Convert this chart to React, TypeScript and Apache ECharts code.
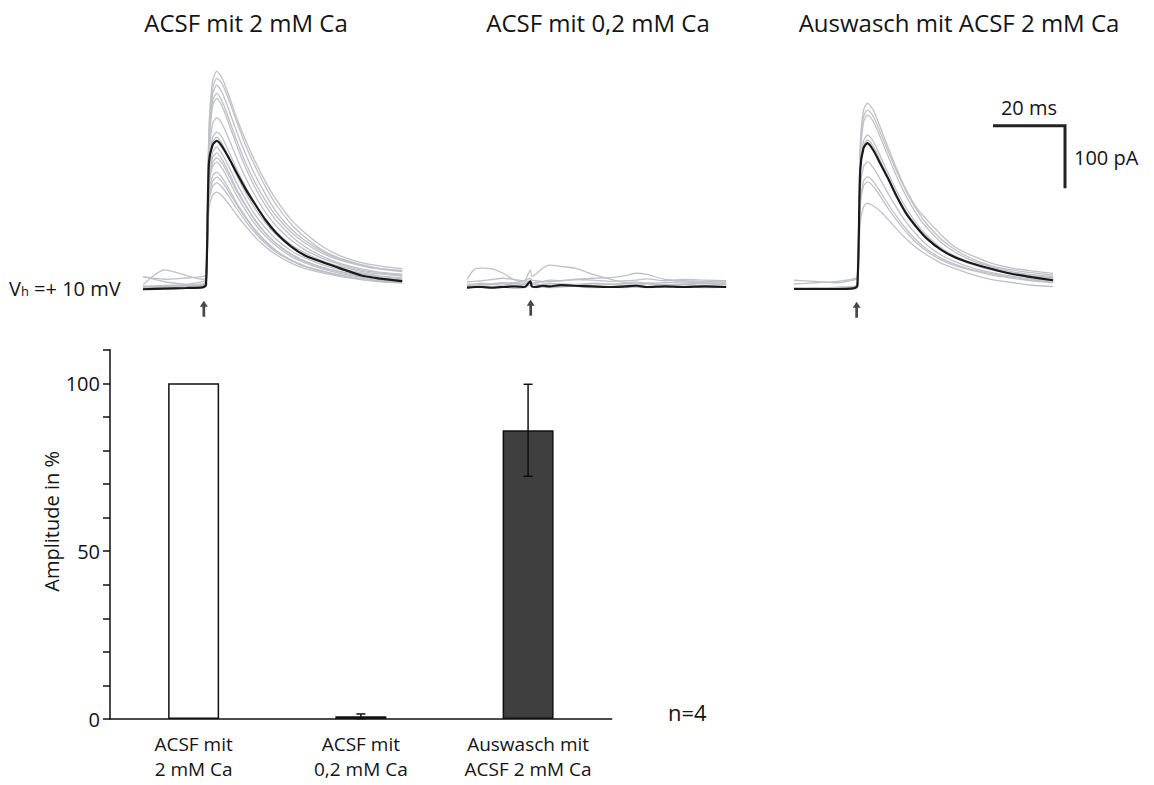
import React, { useEffect, useRef } from "react";
import * as echarts from "echarts";

// ---------- Trace data (time in ms, current in pA) ----------
const panelTitles = ["ACSF mit 2 mM Ca", "ACSF mit 0,2 mM Ca", "Auswasch mit ACSF 2 mM Ca"];

const T1 = [0, 6, 12, 16.5, 17.5, 18.3, 19.3, 20.5, 22, 24, 26, 28.5, 31, 34, 37, 41, 45, 50, 55, 61, 66, 72];
const mean1 = [-2, -1, 0, 1, 5, 200, 228, 235, 226, 206, 184, 158, 135, 109, 88, 67, 52, 41, 31, 19.5, 15, 11];
const gray1 = [
  [2, 0, 1, 2, 8, 250, 330, 346, 335, 305, 272, 236, 204, 170, 141, 110, 88, 66, 51, 40, 35, 31],
  [0, 3, 2, 4, 10, 240, 318, 335, 326, 298, 266, 228, 196, 162, 133, 103, 81, 60, 47, 37, 31, 27],
  [3, 4, 5, 6, 12, 230, 308, 324, 312, 282, 250, 214, 182, 150, 122, 95, 76, 58, 45, 35, 30, 26],
  [18, 14, 16, 18, 22, 225, 298, 311, 298, 268, 236, 200, 170, 140, 115, 90, 72, 55, 44, 36, 31, 28],
  [0, 1, 0, 2, 6, 215, 290, 303, 290, 260, 228, 192, 162, 132, 108, 84, 66, 50, 39, 30, 25, 22],
  [1, 0, 2, 3, 8, 200, 262, 272, 262, 236, 208, 176, 149, 121, 99, 77, 61, 47, 37, 28, 24, 20],
  [5, 29, 20, 14, 16, 190, 240, 249, 240, 216, 190, 162, 136, 110, 90, 70, 56, 43, 34, 26, 22, 19],
  [0, 2, 1, 1, 5, 185, 232, 241, 230, 206, 180, 152, 128, 104, 85, 66, 52, 40, 31, 24, 19, 16],
  [18, 10, 6, 10, 14, 175, 216, 225, 214, 192, 168, 142, 118, 96, 78, 60, 48, 37, 29, 22, 18, 15],
  [0, -1, 0, 1, 4, 170, 208, 216, 205, 183, 158, 133, 110, 88, 71, 54, 42, 32, 25, 18, 14, 12],
  [1, 0, 1, 2, 5, 165, 200, 208, 199, 178, 155, 131, 109, 88, 71, 55, 43, 33, 26, 19, 15, 13],
  [2, 3, 4, 6, 9, 160, 194, 201, 191, 170, 148, 124, 103, 83, 67, 51, 40, 30, 23, 17, 14, 11],
  [0, 1, 1, 2, 5, 150, 179, 185, 176, 157, 136, 114, 94, 75, 60, 45, 35, 26, 20, 14, 11, 9],
  [1, 0, 0, 1, 3, 140, 170, 177, 169, 152, 133, 112, 93, 74, 59, 45, 35, 27, 20, 14, 11, 9],
  [0, 1, 0, 1, 4, 135, 162, 168, 161, 145, 127, 107, 89, 71, 57, 44, 34, 26, 20, 15, 12, 10],
  [0, 2, 1, 3, 5, 125, 148, 153, 147, 133, 117, 99, 82, 66, 53, 40, 31, 24, 18, 13, 10, 8],
];

const T2 = [0, 2, 4, 7, 10, 13, 16, 17.6, 18, 19, 21, 23, 26, 30, 35, 40, 44, 47, 50, 55, 60, 66, 72];
const mean2 = [-1, 0, 0, -1, 0, 1, 0, 9, 1, 0, 2, 1, 3, 2, 1, 0, 1, 2, 0, 1, 0, 1, 0];
const gray2 = [
  [12, 28, 30, 29, 22, 12, 8, 10, 6, 5, 4, 6, 5, 4, 6, 5, 6, 5, 6, 4, 5, 6, 5],
  [2, 3, 4, 5, 6, 7, 10, 27, 17, 20, 30, 35, 33, 30, 20, 12, 7, 8, 6, 7, 8, 7, 6],
  [4, 5, 6, 5, 7, 6, 5, 8, 6, 7, 8, 9, 10, 12, 14, 15, 18, 22, 20, 12, 10, 9, 8],
  [8, 9, 10, 12, 14, 12, 10, 14, 11, 10, 9, 11, 10, 12, 11, 9, 10, 11, 13, 10, 12, 11, 10],
  [1, 2, 3, 4, 3, 5, 4, 6, 4, 3, 4, 5, 4, 3, 5, 4, 3, 4, 5, 3, 4, 3, 4],
  [-2, -1, 0, -1, 0, -2, -1, 3, 0, -1, 0, -1, 0, 1, -1, 0, -1, 0, -1, 0, 1, -1, 0],
];

const T3 = [0, 6, 12, 16.5, 17.6, 18.4, 19.3, 20.4, 22, 24, 26, 28.5, 31, 34, 37, 41, 45, 50, 55, 61, 66, 72];
const mean3 = [0, 0, 0, 1, 5, 190, 225, 233, 222, 200, 178, 148, 122, 99, 80, 62, 50, 40, 32, 23.5, 19, 14];
const gray3 = [
  [14, 12, 10, 14, 18, 230, 285, 297, 286, 258, 228, 192, 160, 130, 110, 86, 66, 52, 41, 33, 29, 25],
  [8, 10, 12, 16, 20, 220, 275, 286, 276, 250, 222, 188, 158, 127, 103, 79, 62, 47, 37, 30, 26, 22],
  [0, 2, 1, 3, 6, 210, 266, 278, 268, 242, 214, 180, 150, 120, 97, 74, 58, 44, 35, 27, 23, 20],
  [2, 1, 3, 4, 7, 190, 236, 246, 236, 212, 187, 157, 131, 105, 85, 65, 52, 40, 32, 25, 21, 18],
  [0, 1, 0, 2, 5, 185, 228, 238, 228, 205, 180, 151, 125, 100, 81, 62, 49, 38, 30, 24, 20, 17],
  [1, 0, 1, 2, 4, 160, 195, 203, 194, 175, 154, 130, 108, 87, 70, 54, 43, 33, 26, 20, 16, 13],
  [0, 1, 0, 1, 4, 140, 172, 179, 172, 155, 137, 116, 97, 78, 63, 49, 39, 30, 24, 18, 14, 11],
  [1, 0, 2, 1, 3, 135, 164, 171, 164, 148, 130, 110, 92, 74, 60, 46, 37, 29, 22, 17, 13, 10],
  [0, 1, 0, 1, 3, 105, 131, 137, 133, 124, 112, 96, 81, 66, 54, 41, 32, 22, 15, 10, 6, 4],
];

const stimTimes = [16.9, 17.7, 17.4];

// ---------- Bar data ----------
const categories = ["ACSF mit\n2 mM Ca", "ACSF mit\n0,2 mM Ca", "Auswasch mit\nACSF 2 mM Ca"];
const amplitudes = [100, 0.8, 86];
const errors = [0, 0.7, 13.7];
const barColors = ["#ffffff", "#111111", "#3f3f3f"];
const yTickLabels = [0, 50, 100];

const FONT = "Open Sans";
const TXT = "#141414";
const GRAY = "#c0c1c8";

const pxPerMs = 3.6;
const pxPerPA = 0.626;
const panelOrigins = [
  [143, 288],
  [467, 287],
  [794, 289],
];
const Y_MIN = -50;
const Y_MAX = 360;
const T_MAX = 72;

export default function App() {
  const ref = useRef<HTMLDivElement>(null);
  useEffect(() => {
    if (!ref.current) return;
    const chart = echarts.init(ref.current, null, { renderer: "svg" });

    const traceSets = [
      { T: T1, mean: mean1, grays: gray1 },
      { T: T2, mean: mean2, grays: gray2 },
      { T: T3, mean: mean3, grays: gray3 },
    ];

    const grids: any[] = [];
    const xAxes: any[] = [];
    const yAxes: any[] = [];
    const series: any[] = [];

    traceSets.forEach((set, p) => {
      const [x0, y0] = panelOrigins[p];
      grids.push({
        left: x0,
        top: y0 - Y_MAX * pxPerPA,
        width: T_MAX * pxPerMs,
        height: (Y_MAX - Y_MIN) * pxPerPA,
      });
      xAxes.push({ gridIndex: p, type: "value", min: 0, max: T_MAX, show: false });
      yAxes.push({ gridIndex: p, type: "value", min: Y_MIN, max: Y_MAX, show: false });
      set.grays.forEach((g) => {
        series.push({
          type: "line",
          xAxisIndex: p,
          yAxisIndex: p,
          data: set.T.map((t, i) => [t, g[i]]),
          showSymbol: false,
          smooth: 0.25,
          lineStyle: { color: GRAY, width: 1.3 },
          silent: true,
          z: 2,
        });
      });
      series.push({
        type: "line",
        xAxisIndex: p,
        yAxisIndex: p,
        data: set.T.map((t, i) => [t, set.mean[i]]),
        showSymbol: false,
        smooth: 0.25,
        lineStyle: { color: "#1a1a1a", width: 2.2 },
        silent: true,
        z: 3,
      });
      series.push({
        type: "scatter",
        xAxisIndex: p,
        yAxisIndex: p,
        data: [[stimTimes[p], -33]],
        symbol: "path://M5,0 L10,9 L6.7,9 L6.7,24 L3.3,24 L3.3,9 L0,9 Z",
        symbolSize: [8, 16],
        itemStyle: { color: "#1a1a1a" },
        silent: true,
        z: 4,
      });
    });

    // bar chart grid
    grids.push({ left: 110, top: 349.7, width: 501.7, height: 369.3 });
    xAxes.push({
      gridIndex: 3,
      type: "category",
      data: categories,
      axisLine: { lineStyle: { color: "#111", width: 1.5 } },
      axisTick: { alignWithLabel: true, interval: 0, length: 8, lineStyle: { color: "#111", width: 1.5 } },
      axisLabel: { interval: 0, color: TXT, fontSize: 19, fontFamily: FONT, lineHeight: 25, margin: 12 },
    });
    yAxes.push({
      gridIndex: 3,
      type: "value",
      min: 0,
      max: 110,
      interval: 10,
      name: "Amplitude in %",
      nameLocation: "middle",
      nameGap: 42,
      nameTextStyle: { color: TXT, fontSize: 20, fontFamily: FONT, padding: [0, 0, 0, 26] },
      axisLine: { show: true, lineStyle: { color: "#111", width: 1.5 } },
      axisTick: { show: true, length: 7, lineStyle: { color: "#111", width: 1.5 } },
      axisLabel: {
        color: TXT,
        fontSize: 20,
        fontFamily: FONT,
        margin: 10,
        formatter: (v: number) => (yTickLabels.includes(v) ? String(v) : ""),
      },
      splitLine: { show: false },
    });
    series.push({
      type: "bar",
      xAxisIndex: 3,
      yAxisIndex: 3,
      barWidth: 51,
      data: amplitudes.map((v, i) => ({
        value: v,
        itemStyle: { color: barColors[i], borderColor: "#111", borderWidth: 1.5 },
      })),
      silent: true,
      z: 2,
    });
    series.push({
      type: "custom",
      xAxisIndex: 3,
      yAxisIndex: 3,
      data: amplitudes.map((v, i) => [i, v - errors[i], v + errors[i]]),
      renderItem: (params: any, api: any) => {
        if (api.value(2) - api.value(1) <= 0) return null;
        const lo = api.coord([api.value(0), api.value(1)]);
        const hi = api.coord([api.value(0), api.value(2)]);
        const h = 4.5;
        const st = { stroke: "#111", lineWidth: 1.5 };
        return {
          type: "group",
          children: [
            { type: "line", shape: { x1: lo[0], y1: lo[1], x2: hi[0], y2: hi[1] }, style: st },
            { type: "line", shape: { x1: hi[0] - h, y1: hi[1], x2: hi[0] + h, y2: hi[1] }, style: st },
            { type: "line", shape: { x1: lo[0] - h, y1: lo[1], x2: lo[0] + h, y2: lo[1] }, style: st },
          ],
        };
      },
      silent: true,
      z: 5,
    });

    const titleCenters = [241, 593, 954];

    chart.setOption({
      animation: false,
      backgroundColor: "#ffffff",
      textStyle: { fontFamily: FONT },
      title: panelTitles.map((t, i) => ({
        text: t,
        left: titleCenters[i],
        top: 5,
        textAlign: "center",
        textStyle: { fontSize: 24, fontWeight: "normal", color: TXT, fontFamily: FONT },
      })),
      grid: grids,
      xAxis: xAxes,
      yAxis: yAxes,
      series,
    });

    // scale bar derived from panel 3 scale
    const p0 = chart.convertToPixel({ gridIndex: 2 }, [0, 0]) as number[];
    const p1 = chart.convertToPixel({ gridIndex: 2 }, [20, 100]) as number[];
    const dx = p1[0] - p0[0];
    const dy = p0[1] - p1[1];
    const cx = 1065;
    const cy = 125.7;
    chart.setOption({
      graphic: [
        {
          type: "polyline",
          shape: { points: [[cx - dx, cy], [cx, cy], [cx, cy + dy]] },
          style: { stroke: "#222", lineWidth: 3, fill: null },
        },
        {
          type: "text",
          x: cx - dx / 2,
          y: cy - 8,
          style: { text: "20 ms", fontSize: 20, fontFamily: FONT, fill: TXT, align: "center", verticalAlign: "bottom" },
        },
        {
          type: "text",
          x: cx + 9,
          y: cy + dy / 2,
          style: { text: "100 pA", fontSize: 20, fontFamily: FONT, fill: TXT, align: "left", verticalAlign: "middle" },
        },
        {
          type: "text",
          x: 9,
          y: 288,
          style: {
            text: "{v|V}{s|h}{r| =+ 10 mV}",
            fontFamily: FONT,
            fill: TXT,
            verticalAlign: "middle",
            align: "left",
            rich: {
              v: { fontSize: 20, fontFamily: FONT, fill: TXT },
              s: { fontSize: 13, fontFamily: FONT, fill: TXT, padding: [6, 0, 0, 0] },
              r: { fontSize: 20, fontFamily: FONT, fill: TXT },
            },
          },
        },
        {
          type: "text",
          x: 668,
          y: 712,
          style: { text: "n=4", fontSize: 22, fontFamily: FONT, fill: TXT, align: "left", verticalAlign: "middle" },
        },
      ],
    });

    return () => chart.dispose();
  }, []);
  return (
    <div
      ref={ref}
      style={{ position: "fixed", left: 0, top: 0, width: 1154, height: 785, background: "#fff" }}
    />
  );
}
